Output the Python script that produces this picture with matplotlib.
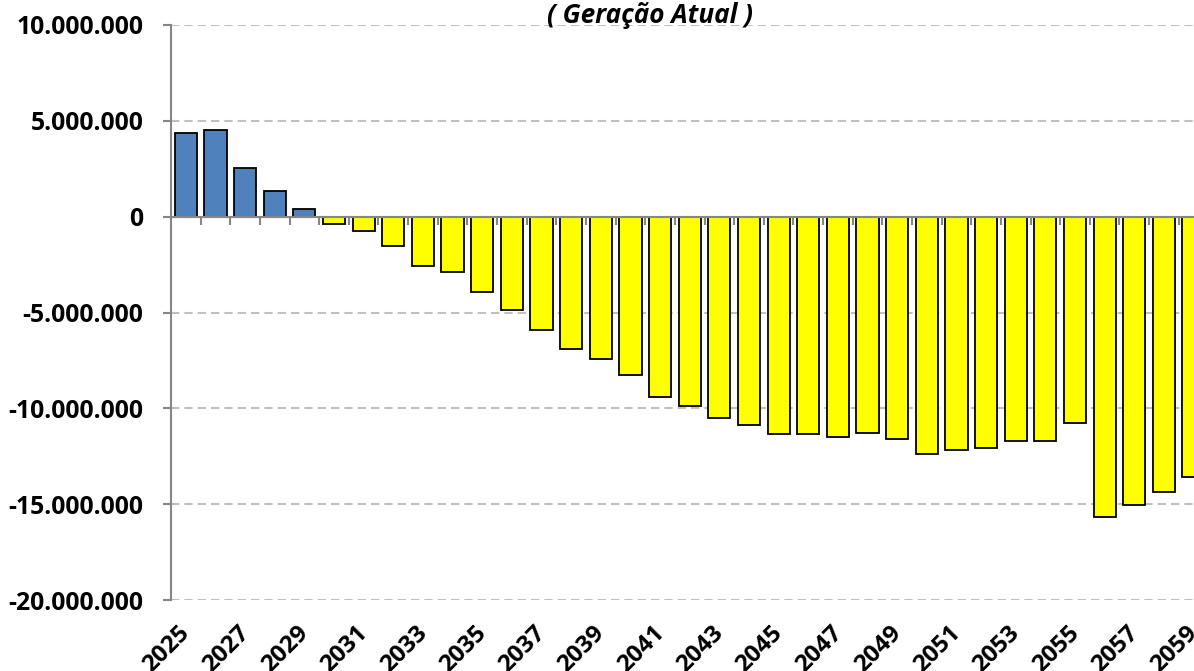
import numpy as np
import matplotlib
matplotlib.use("Agg")
import matplotlib.pyplot as plt
from matplotlib.ticker import FuncFormatter
from matplotlib.transforms import ScaledTranslation

years = list(range(2025, 2060))
values_m = [4.38, 4.52, 2.52, 1.32, 0.40, -0.38, -0.76, -1.55, -2.59, -2.90,
            -3.94, -4.85, -5.93, -6.92, -7.44, -8.24, -9.39, -9.87, -10.48, -10.88,
            -11.32, -11.32, -11.49, -11.27, -11.58, -12.40, -12.19, -12.07, -11.69, -11.69,
            -10.75, -15.65, -15.02, -14.36, -13.56]
values = [v * 1e6 for v in values_m]
y_ticks = [10e6, 5e6, 0, -5e6, -10e6, -15e6, -20e6]
title = "( Geração Atual )"

BLUE = "#4F81BD"
YELLOW = "#FFFF00"
AXIS = "#868686"
GRID = "#C0C0C0"
FONT = "Open Sans"

W, H = 1194, 671
fig = plt.figure(figsize=(W / 100, H / 100), dpi=100)
left = 171 / W
bottom = 1 - 600 / H
top = 1 - 25 / H
width = 35 * 29.64 / W
ax = fig.add_axes([left, bottom, width, top - bottom])

x = np.arange(len(years))
colors = [BLUE if v > 0 else YELLOW for v in values]
ax.bar(x, values, width=0.75, color=colors, edgecolor="black", linewidth=1.3, zorder=3)

ax.set_xlim(-0.5, len(years) - 0.5)
ax.set_ylim(-20e6, 10e6)
ax.set_yticks(y_ticks)
ax.yaxis.set_major_formatter(FuncFormatter(lambda v, p: f"{int(round(v)):,}".replace(",", ".")))
ax.yaxis.grid(True, color=GRID, linestyle=(0, (4.0, 2.4)), linewidth=1.5)
ax.set_axisbelow(True)

for s in ["top", "right", "bottom"]:
    ax.spines[s].set_visible(False)
ax.spines["left"].set_color(AXIS)
ax.spines["left"].set_linewidth(1.5)
ax.spines["left"].set_zorder(5)

ax.axhline(0, color=AXIS, linewidth=1.5, zorder=4)
bounds = np.arange(len(years) - 1) + 0.5
tick_len = 8 * 30e6 / 575
ax.vlines(bounds, -tick_len, 0, color=AXIS, linewidth=1.5, zorder=2)

ax.tick_params(axis="y", length=6, width=1.5, color=AXIS, pad=14,
               labelsize=17.8)
for lab in ax.get_yticklabels():
    lab.set_fontfamily(FONT)
    lab.set_fontweight("bold")

ax.set_xticks(x[::2])
ax.set_xticklabels([str(y) for y in years[::2]], rotation=45, ha="right",
                   fontsize=17.5, fontweight="bold", fontfamily=FONT)
ax.tick_params(axis="x", length=0, pad=15)
offset = ScaledTranslation(0.09, 0, fig.dpi_scale_trans)
for lab in ax.get_xticklabels():
    lab.set_transform(lab.get_transform() + offset)

fig.text(650 / W, 1 - 23.3 / H, title, ha="center", va="baseline",
         fontsize=18.8, fontweight="bold", fontstyle="italic", fontfamily=FONT)

fig.savefig("out.png", dpi=100)
